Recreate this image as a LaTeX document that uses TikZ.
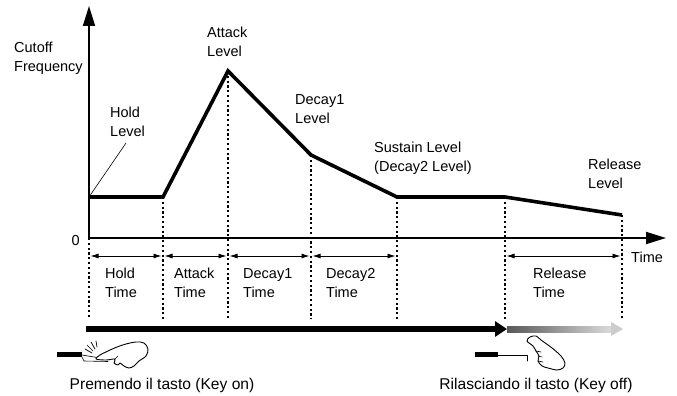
\documentclass[tikz,border=0pt]{standalone}
\usepackage{fontspec}
\setmainfont{Liberation Sans}
\usetikzlibrary{arrows.meta}
\definecolor{fadedark}{HTML}{585858}
\definecolor{fadelight}{HTML}{DADADA}
\definecolor{fadehead}{HTML}{CCCCCC}

\begin{document}
\begin{tikzpicture}[x=1pt, y=-1pt, font=\fontsize{14.5}{19}\selectfont,
  axis/.style={line width=1.9pt, -{Triangle[length=20pt, width=12pt]}},
  env/.style={line width=3.6pt, line join=miter},
  guide/.style={line width=1.1pt, dash pattern=on 2.2pt off 2.6pt},
  span/.style={line width=0.8pt, shorten <=1.5pt, shorten >=1.5pt,
    {Latex[length=8pt, width=5pt]}-{Latex[length=8pt, width=5pt]}},
  lbl/.style={align=left, inner sep=0pt, anchor=north west},
  caption/.style={inner sep=0pt, anchor=north, font=\fontsize{15.6}{19}\selectfont},
  sketch/.style={line width=0.9pt, line join=round, line cap=round}]
  \useasboundingbox (0,0) rectangle (677,396);

  % axes
  \coordinate (org) at (89,238);
  \coordinate (ytop) at (89,6);
  \coordinate (xend) at (666,238);
  \draw[axis] (org) -- (ytop);
  \draw[axis] (org) -- (xend);
  \node[inner sep=0pt, anchor=north east] (zero) at (80,235) {0};
  \node[lbl] (ylab) at (14,42) {Cutoff\\Frequency};
  \node[lbl] (xlab) at (631,252) {Time};

  % envelope corners
  \foreach \nm/\x/\y in {p0/89/197, p1/163/197, p2/228/71, p3/311/155,
                         p4/397/197, p5/505/197, p6/622/215}{%
    \coordinate (\nm) at (\x,\y);}
  \coordinate (low) at (0,319);
  \coordinate (dim) at (0,256);

  % dotted guides down to the time spans
  \draw[guide] (org) -- (org |- low);
  \foreach \nm in {p1,p2,p3,p4,p5,p6}{%
    \draw[guide] (\nm) -- (\nm |- low);}

  \draw[env] (p0) -- (p1) -- (p2) -- (p3) -- (p4) -- (p5) -- (p6);

  % level labels
  \coordinate (holdtip) at (126,143);
  \draw[line width=0.6pt] (p0) -- (holdtip);
  \node[lbl] (hold) at (110,107) {Hold\\Level};
  \node[lbl] (attack) at (207,27) {Attack\\Level};
  \node[lbl] (decay) at (295,94) {Decay1\\Level};
  \node[lbl] (sustain) at (374,142) {Sustain Level\\(Decay2 Level)};
  \node[lbl] (release) at (588,159) {Release\\Level};

  % time spans
  \foreach \a/\b in {p0/p1, p1/p2, p2/p3, p3/p4, p5/p6}{%
    \draw[span] (\a |- dim) -- (\b |- dim);}
  \foreach \x/\lab in {105/Hold, 174/Attack, 243/Decay1, 326/Decay2, 533/Release}{%
    \node[lbl] at (\x,268) {\lab\\Time};}

  % key held / key released bar
  \coordinate (barstart) at (86,329);
  \coordinate (baroff) at (507,329);
  \draw[line width=6pt, -{Triangle[length=12pt, width=15pt]}] (barstart) -- (baroff);
  \shade[left color=fadedark, right color=fadelight] (507,326) rectangle (611,332);
  \fill[fadehead] (611,322) -- (623,329) -- (611,336) -- cycle;

  % key on: pressed key and finger
  \fill (57,351.5) rectangle (82,356.5);
  \draw[sketch, line width=0.6pt] (82,355) -- (100,358) (82,357) -- (84,361) -- (108,361.5);
  \draw[sketch, line width=0.7pt] (85,349) -- (92,353) (87,345) -- (93,351)
    (91,342) -- (95,349) (96,341) -- (97,347);
  \draw[sketch, fill=white] plot[smooth cycle, tension=0.55] coordinates {
    (96,359) (100,355) (108,351) (117,347) (126,344) (136,342) (144,343)
    (148,349) (146,356) (139,361) (134,366) (129,368) (124,366) (120,363)
    (118,365) (114,363) (115,359) (106,360)};
  \draw[sketch, line width=0.6pt] (118,356) -- (114,360);
  \node[caption] (keyon) at (162,378) {Premendo il tasto (Key on)};

  % key off: raised key and finger
  \fill (475,351.5) rectangle (498,356.5);
  \draw[sketch, line width=0.6pt] (498,355.5) -- (527,355.5) -- (527,361);
  \draw[sketch, fill=white] plot[smooth cycle, tension=0.55] coordinates {
    (527,341) (530,337) (536,336) (541,340) (552,348) (561,356) (565,363)
    (563,368) (557,370) (548,368) (542,366) (538,361) (539,356) (536,351)
    (533,346)};
  \draw[sketch, line width=0.6pt] (536,351) -- (541,352) (538,356) -- (542,357)
    (538,361) -- (543,362);
  \node[caption] (keyoff) at (536,378) {Rilasciando il tasto (Key off)};
\end{tikzpicture}
\end{document}
